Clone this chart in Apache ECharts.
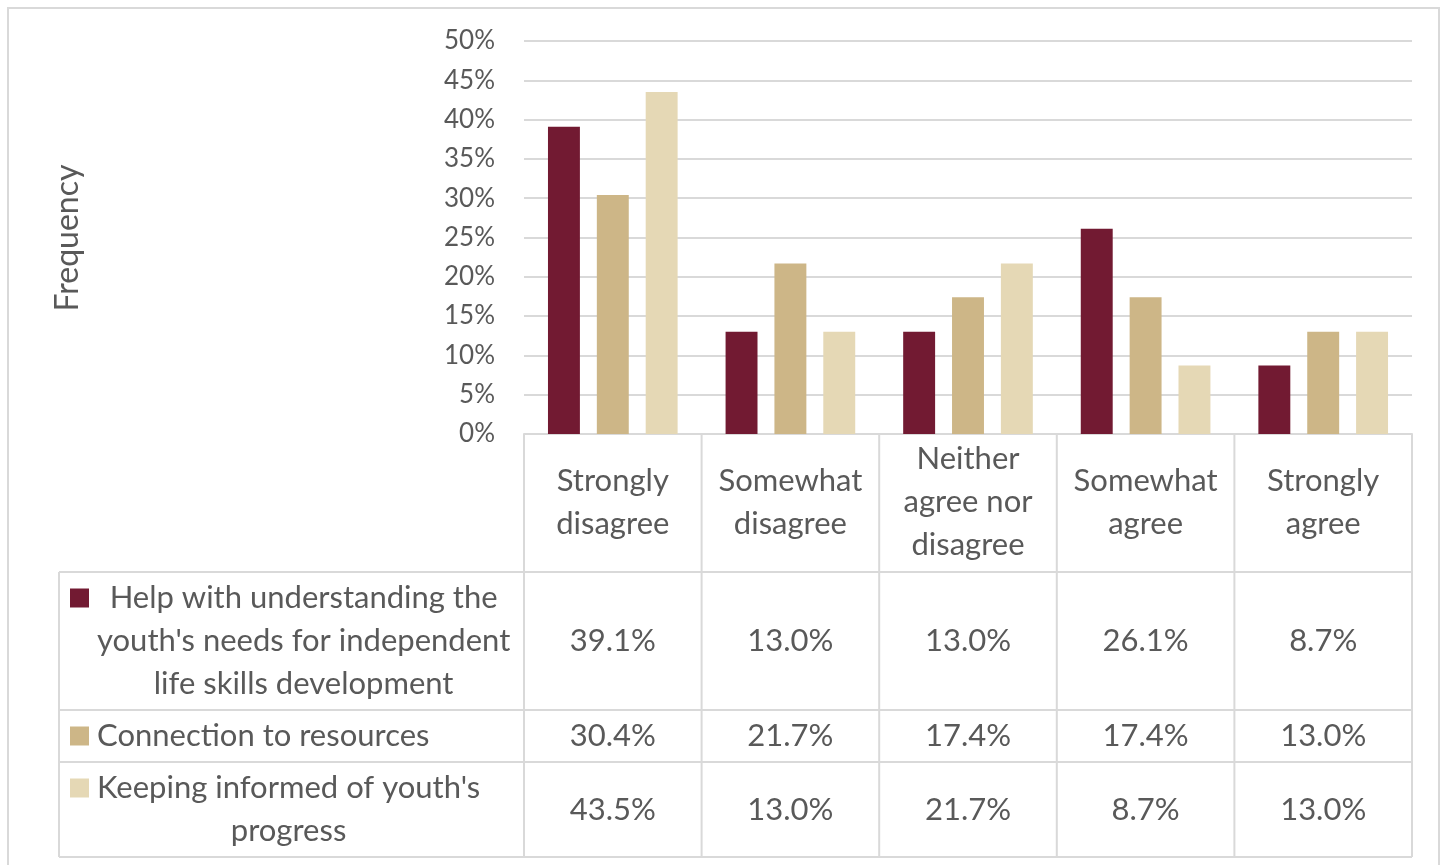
<!DOCTYPE html>
<html>
<head>
<meta charset="utf-8">
<title>Frequency of responses</title>
<script src="https://cdn.jsdelivr.net/npm/echarts@6/dist/echarts.min.js"></script>
<style>
  html, body { margin: 0; padding: 0; background: #ffffff; }
  #chart { width: 1448px; height: 865px; }
</style>
</head>
<body>
<div id="chart"></div>
<script>
// Response categories (x axis / table columns)
const categories = ['Strongly\ndisagree', 'Somewhat\ndisagree', 'Neither\nagree nor\ndisagree', 'Somewhat\nagree', 'Strongly\nagree'];

// Series names (table row headers)
const seriesNames = [
  "Help with understanding the\nyouth's needs for independent\nlife skills development",
  'Connection to resources',
  "Keeping informed of youth's\nprogress"
];

// Percent of respondents per category
const helpUnderstanding = [39.1, 13.0, 13.0, 26.1, 8.7];
const connectionResources = [30.4, 21.7, 17.4, 17.4, 13.0];
const keepingInformed = [43.5, 13.0, 21.7, 8.7, 13.0];

// Y axis ticks
const yTicks = [0, 5, 10, 15, 20, 25, 30, 35, 40, 45, 50];

const seriesValues = [helpUnderstanding, connectionResources, keepingInformed];
const seriesColors = ['#721a32', '#cdb687', '#e5d8b5'];

const FONT = 'Lato, "Noto Sans", sans-serif';
const TEXT = '#595959';
const LINE = '#d9d9d9';

// Layout
const W = 1448, H = 865;
const plotLeft = 524, plotRight = 1412, plotTop = 41, plotBottom = 434;
const tableLeft = 59;
const rowEdges = [572, 710, 762, 857]; // bottom of header, then bottom of each series row
const keyX = 70, keySize = 19, textLeft = 97;
const tableFont = 31, lineH = 43;

const chart = echarts.init(document.getElementById('chart'), null, { renderer: 'canvas' });

// measure text widths for centering multi-line row headers within their block
const mctx = document.createElement('canvas').getContext('2d');
mctx.font = tableFont + 'px ' + FONT;

const graphics = [];

// outer frame
graphics.push({
  type: 'rect', silent: true,
  shape: { x: 8, y: 8, width: 1431, height: 880 },
  style: { fill: 'none', stroke: LINE, lineWidth: 2 }
});

// y axis title
graphics.push({
  type: 'text', silent: true,
  x: 68, y: 238, rotation: Math.PI / 2,
  style: { text: 'Frequency', font: '32px ' + FONT, fill: TEXT, align: 'center', verticalAlign: 'middle' }
});

// table grid lines
const nCat = categories.length;
const colW = (plotRight - plotLeft) / nCat;
for (let i = 0; i <= nCat; i++) {
  const x = plotLeft + i * colW;
  graphics.push({
    type: 'line', silent: true,
    shape: { x1: x, y1: plotBottom, x2: x, y2: rowEdges[rowEdges.length - 1] },
    style: { stroke: LINE, lineWidth: 2 }
  });
}
graphics.push({
  type: 'line', silent: true,
  shape: { x1: tableLeft, y1: rowEdges[0], x2: tableLeft, y2: rowEdges[rowEdges.length - 1] },
  style: { stroke: LINE, lineWidth: 2 }
});
rowEdges.forEach(function (y) {
  graphics.push({
    type: 'line', silent: true,
    shape: { x1: tableLeft, y1: y, x2: plotRight, y2: y },
    style: { stroke: LINE, lineWidth: 2 }
  });
});

// series rows: key, name and values
seriesNames.forEach(function (name, s) {
  const top = rowEdges[s], bottom = rowEdges[s + 1];
  const cy = (top + bottom) / 2;
  const lines = name.split('\n');
  const firstY = cy - (lines.length - 1) * lineH / 2;
  const blockW = Math.max.apply(null, lines.map(function (l) { return mctx.measureText(l).width; }));

  graphics.push({
    type: 'rect', silent: true,
    shape: { x: keyX, y: firstY - keySize / 2, width: keySize, height: keySize },
    style: { fill: seriesColors[s] }
  });
  lines.forEach(function (l, k) {
    graphics.push({
      type: 'text', silent: true,
      x: textLeft + blockW / 2, y: firstY + k * lineH,
      style: { text: l, font: tableFont + 'px ' + FONT, fill: TEXT, align: 'center', verticalAlign: 'middle' }
    });
  });
  seriesValues[s].forEach(function (v, c) {
    graphics.push({
      type: 'text', silent: true,
      x: plotLeft + (c + 0.5) * colW, y: cy,
      style: { text: v.toFixed(1) + '%', font: tableFont + 'px ' + FONT, fill: TEXT, align: 'center', verticalAlign: 'middle' }
    });
  });
});

const option = {
  animation: false,
  backgroundColor: '#ffffff',
  textStyle: { fontFamily: FONT },
  grid: { left: plotLeft, right: W - plotRight, top: plotTop, bottom: H - plotBottom, containLabel: false },
  xAxis: {
    type: 'category',
    data: categories,
    axisLine: { show: true, lineStyle: { color: LINE, width: 2 } },
    axisTick: { show: false },
    axisLabel: {
      interval: 0, margin: 68, verticalAlign: 'middle',
      fontSize: tableFont, lineHeight: lineH, color: TEXT, fontFamily: FONT
    }
  },
  yAxis: {
    type: 'value',
    min: yTicks[0], max: yTicks[yTicks.length - 1], interval: yTicks[1] - yTicks[0],
    axisLine: { show: false },
    axisTick: { show: false },
    axisLabel: { formatter: '{value}%', fontSize: 26, margin: 29, color: TEXT, fontFamily: FONT },
    splitLine: { lineStyle: { color: LINE, width: 2 } }
  },
  series: seriesNames.map(function (name, s) {
    return {
      type: 'bar',
      name: name,
      data: seriesValues[s],
      barGap: '53%',
      barCategoryGap: '27%',
      itemStyle: { color: seriesColors[s] }
    };
  }),
  graphic: graphics
};

chart.setOption(option);
</script>
</body>
</html>
